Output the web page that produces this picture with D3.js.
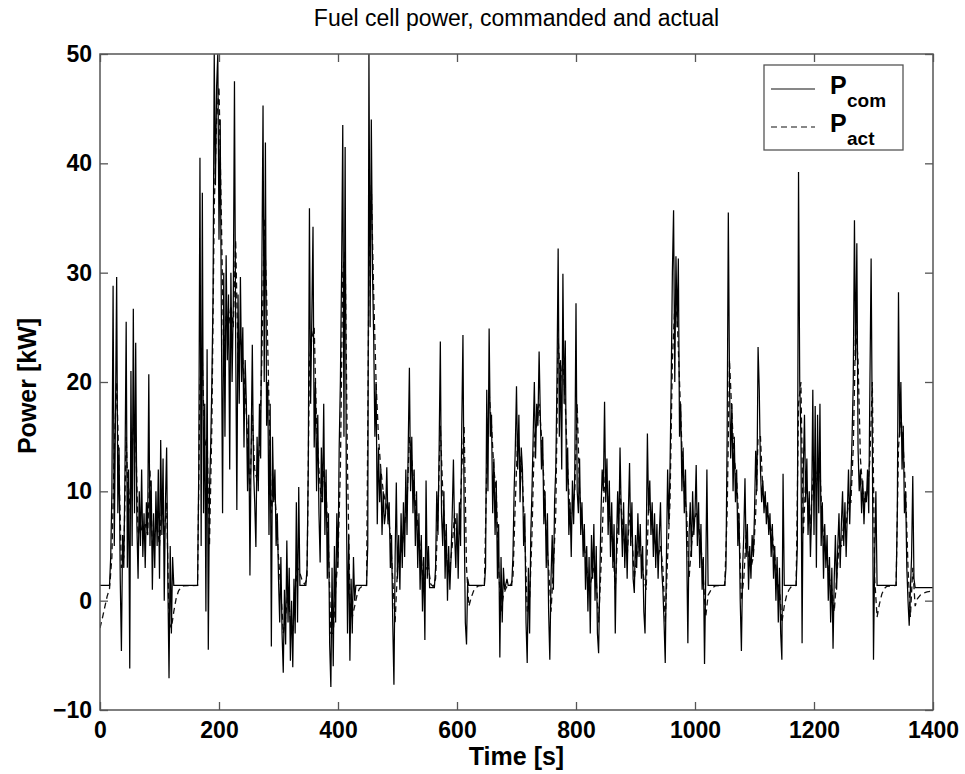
<!DOCTYPE html>
<html>
<head>
<meta charset="utf-8">
<script src="https://cdn.jsdelivr.net/npm/d3@7"></script>
<style>
html,body{margin:0;padding:0;background:#fff;}
svg{display:block;font-family:"Liberation Sans",Arial,Helvetica,sans-serif;}
</style>
</head>
<body>
<svg id="chart" width="965" height="774"></svg>
<script>
const titleText = "Fuel cell power, commanded and actual";
const xLabel = "Time [s]";
const yLabel = "Power [kW]";
const xTicks = [0,200,400,600,800,1000,1200,1400];
const yTicks = [-10,0,10,20,30,40,50];
const seriesNames = ["com","act"];

// commanded power [time s, kW]
const pCom = [
[0,1.4],[16,1.4],[18,4],[20,10],[22,28.8],[24,5],[26,17],[28,29.6],[30,8],[32,14],[34,2],[36,-4.6],[38,6],
[40,3],[42,12],[44,25.5],[46,3],[48,12],[50,-6.2],[52,21],[54,5],[56,26.7],[58,8],
[60,23.6],[62,7],[64,2],[66,10],[68,5],[70,12],[72,4],[74,8],[76,3],[78,9],
[80,6],[82,20.7],[84,5],[86,11],[88,1],[90,8],[92,3],[94,10],[96,5],[98,12],
[100,2],[102,14.7],[104,6],[106,13],[108,0],[110,9],[112,14],[114,2],[116,-7.1],[118,5],
[120,-3],[122,4],[124,1.4],[164,1.4],[166,12],[168,40.5],[170,5],[172,37.3],[174,8],[176,18],[178,-1],[180,23],[182,-4.5],[184,10],
[186,14],[188,20],[190,28],[192,50],[194,38],[196,47],[198,50],[200,33],[202,44],[204,26],
[206,8],[208,30],[210,15],[212,31.6],[214,22],[216,28],[218,12],[220,30],[222,20],[224,27],
[226,47.5],[228,24],[230,8.3],[232,28],[234,18],[236,29.6],[238,20],[240,25],[242,14],[244,22],
[246,18],[248,10],[250,17],[252,2.3],[254,14],[256,23.4],[258,12],[260,9],[262,4.9],[264,15],
[266,10],[268,18],[270,13],[272,30],[274,45.3],[276,20],[278,41.9],[280,16],[282,20],[284,6],
[286,18],[288,-4.2],[290,15],[292,9],[294,12],[296,5],[298,8],[300,2],
[302,-2],[304,4],[306,-3],[308,-6.6],[310,1],[312,-4],[314,5.5],[316,-2],[318,3],[320,-5.5],
[322,0],[324,-6.1],[326,2],[328,-3],[330,9],[332,-2],[334,10.4],[336,1.4],[346,1.4],[348,3],
[350,12],[352,35.9],[354,18],[356,26],[358,34.2],[360,14],[362,20],[364,10],[366,17],[368,8],
[370,3.5],[372,14],[374,9],[376,18],[378,6],[380,12],[382,2],[384,8],[386,-4],[388,-7.9],
[390,3],[392,-6],[394,5],[396,-2],[398,8],[400,3],[402,14],[404,20],[406,30],[408,43.5],
[410,15],[412,41.5],[414,10],[416,-3],[418,6],[420,-5.5],[422,2],[424,-3],[426,4],[428,0],
[430,1.4],[448,1.4],[450,5],[452,50],[454,25],[456,44],[458,30],
[460,24],[462,15],[464,20],[466,7],[468,14],[470,9],[472,12],[474,6],[476,10],[478,7],
[480,8],[482,12.2],[484,7],[486,9],[488,3],[490,6],[492,-2],[494,-7.7],[496,4],[498,10.8],
[500,2],[502,6],[504,1],[506,8],[508,3],[510,9],[512,4],[514,12],[516,6],[518,14],
[520,21.3],[522,10],[524,15],[526,8],[528,12],[530,5],[532,10],[534,3],[536,8],[538,1],
[540,6],[542,-1],[544,4],[546,-3.6],[548,11],[550,2],[552,5],[554,1.2],[562,1.2],[564,3],[566,10],[568,6],[570,14],[572,23.7],[574,8],[576,5],[578,10],
[580,2],[582,7],[584,0],[586,5],[588,1],[590,4],[592,8],[594,12.9],[596,6],[598,3],
[600,8],[602,2],[604,9],[606,5],[608,16],[610,24.3],[612,8],[614,-2],[616,-4],[618,2],
[620,1.4],[646,1.4],[648,3],[650,19.3],[652,10],[654,24.9],[656,15],[658,17],[660,8],[662,13],[664,6],[666,11],
[668,2],[670,7],[672,-5.2],[674,4],[676,-2],[678,3],[680,1],[682,1.5],[684,2],[686,1.4],[692,1.4],[694,4],[696,10],[698,14],
[700,19.6],[702,12],[704,17],[706,9],[708,14],[710,12],[712,5],[714,8],[716,-2],[718,-5.7],
[720,3],[722,-3],[724,6],[726,10],[728,15],[730,20],[732,13],[734,18],[736,16],[738,22.8],
[740,17],[742,12],[744,15],[746,7],[748,10],[750,3],[752,8],[754,-1],[756,-5.4],[758,2],
[760,6],[762,1],[764,9],[766,12],[768,20],[770,32.2],[772,15],[774,22],[776,12],[778,29.9],
[780,18],[782,23.8],[784,10],[786,14],[788,6],[790,9],[792,4],[794,11],[796,7],[798,12],
[800,27.2],[802,10],[804,8],[806,13],[808,6],[810,9],[812,4],[814,7],[816,1],[818,5],
[820,-1],[822,4],[824,-3],[826,6],[828,2],[830,7],[832,0],[834,5],[836,-3],[838,-4.8],
[840,2],[842,8],[844,12],[846,10],[848,18.2],[850,9],[852,13],[854,6],[856,11],[858,4],
[860,9],[862,3],[864,7],[866,-3],[868,5],[870,10],[872,6],[874,14],[876,8],[878,4],
[880,9],[882,3],[884,7],[886,2],[888,8],[890,12.6],[892,5],[894,9],[896,2],[898,0.7],
[900,6],[902,3],[904,8],[906,4],[908,7],[910,2],[912,5],[914,-1],[916,-3],[918,5],
[920,15.3],[922,8],[924,11],[926,6],[928,9],[930,4],[932,8],[934,3],[936,7],[938,2],
[940,6],[942,9],[944,3],[946,1],[948,-2],[950,-5.7],[952,4],[954,12],[956,7],[958,12],
[960,20],[962,30.1],[964,35.7],[966,20],[968,31.5],[970,25],[972,31.3],[974,15],[976,18],[978,10],
[980,14],[982,8],[984,12],[986,5],[988,-3.9],[990,6],[992,9],[994,4],[996,10],[998,6],
[1000,8],[1002,12.4],[1004,5],[1006,9],[1008,3],[1010,7],[1012,1],[1014,4],[1016,-5.8],[1018,2],
[1020,12],[1022,1.4],[1050,1.4],[1052,3],[1054,15],[1056,35.5],[1058,20],[1060,13],[1062,18],[1064,10],[1066,15],[1068,9],[1070,12],
[1072,5],[1074,8],[1076,0],[1078,-4.6],[1080,3],[1082,6],[1084,11.2],[1086,4],[1088,7],[1090,1],
[1092,5],[1094,2],[1096,6],[1098,4],[1100,8],[1102,13.7],[1104,10],[1106,23.2],[1108,19.3],[1110,12],
[1112,9],[1114,11],[1116,8],[1118,10],[1120,7],[1122,9],[1124,6],[1126,8],[1128,4],[1130,7],
[1132,2],[1134,5],[1136,0],[1138,4],[1140,-2],[1142,3],[1144,-3],[1146,-5.4],[1148,11.6],[1150,1.4],
[1170,1.4],[1172,5],[1174,39.2],[1176,20],[1178,15],[1180,-3.9],[1182,12],[1184,17],[1186,9],[1188,13],
[1190,6],[1192,10],[1194,4],[1196,8],[1198,19.3],[1200,6],[1202,17.8],[1204,3],[1206,17],[1208,8],
[1210,18],[1212,5],[1214,9],[1216,2],[1218,7],[1220,3],[1222,6],[1224,0],[1226,4],[1228,-2],
[1230,3],[1232,-4.4],[1234,2],[1236,6],[1238,1],[1240,5],[1242,8],[1244,3],[1246,7],[1248,10],
[1250,5],[1252,9],[1254,4],[1256,8],[1258,12],[1260,7],[1262,11],[1264,15],[1266,20],[1268,34.8],
[1270,22],[1272,32.7],[1274,14],[1276,10],[1278,12],[1280,8],[1282,11],[1284,7],[1286,10],[1288,9],
[1290,12],[1292,8],[1294,20],[1296,31.3],[1298,15],[1300,-5.4],[1302,4],[1304,10],[1306,1.4],
[1338,1.4],[1340,8],[1342,28.2],[1344,15],[1346,20],[1348,12],[1350,16],[1352,8],[1354,10],[1356,3],
[1358,0],[1360,-2.3],[1362,1],[1364,4],[1366,11.4],[1368,2],[1370,1.2],[1400,1.2]
];

// actual power [time s, kW]
const pAct = [
[0,-2.5],[4,-1.6],[8,-0.6],[12,0.4],[16,1.1],[20,4],[24,14],[28,20],[32,12],[36,3],[40,4],[44,15],[48,8],[52,11],[56,16],[60,15],[64,6],[68,7],[72,6],[76,7],[80,6],[84,12],[88,5],[92,6],[96,7],
[100,5],[104,9],[108,6],[112,9],[116,-2],[120,-2.5],[124,-1],[128,0.2],[132,0.9],[136,1.2],[140,1.35],[164,1.4],[168,20],[172,22],[176,14],[180,15],[184,5],[188,16],[192,36],[196,44],
[200,47],[204,35],[208,22],[212,26],[216,25],[220,27],[224,25],[228,33],[232,22],[236,24],[240,22],[244,19],[248,15],[252,10],[256,17],[260,12],[264,11],[268,14],[272,22],[276,35],[280,28],[284,18],[288,8],[292,11],[296,8],
[300,4],[304,1],[308,-3],[312,-1.5],[316,1],[320,-2],[324,-3],[328,1],[332,3],[336,2.5],[340,1.8],[344,1.5],[348,2],[352,22],[356,24],[360,25],[364,16],[368,12],[372,9],[376,12],[380,10],[384,5],[388,-3],[392,-3],[396,1],
[400,4],[404,12],[408,30],[412,32],[416,12],[420,0],[424,-1.5],[428,-0.5],[432,0.5],[436,1.1],[440,1.3],[448,1.4],[452,30],[456,38],[460,28],[464,20],[468,15],[472,12],[476,10],[480,9],[484,8],[488,6],[492,2],[496,-2],
[500,3],[504,4],[508,5],[512,7],[516,9],[520,15],[524,13],[528,10],[532,8],[536,6],[540,4],[544,1],[548,3],[552,3],[556,1.5],[560,1.3],[564,2],[568,8],[572,16],[576,10],[580,6],[584,3],[588,3],[592,5],[596,8],
[600,6],[604,6],[608,12],[612,16],[616,3],[620,-0.5],[624,0.3],[628,0.9],[632,1.2],[636,1.35],[646,1.4],[650,12],[654,19],[658,16],[662,12],[666,10],[670,3],[674,-1],[678,0.5],[682,1.1],[686,1.5],[690,1.4],[694,2],[698,9],
[702,15],[706,13],[710,11],[714,6],[718,-1],[722,0],[726,6],[730,15],[734,16],[738,18],[742,15],[746,11],[750,6],[754,3],[758,-1],[762,3],[766,8],[770,24],[774,20],[778,22],[782,18],[786,12],[790,8],[794,8],[798,10],
[802,18],[806,10],[810,7],[814,5],[818,3],[822,1],[826,2],[830,3],[834,2],[838,-2],[842,3],[846,9],[850,12],[854,9],[858,7],[862,5],[866,1],[870,6],[874,10],[878,7],[882,5],[886,4],[890,8],[894,6],[898,2],
[902,4],[906,5],[910,4],[914,2],[918,1],[922,9],[926,8],[930,6],[934,5],[938,4],[942,5],[946,3],[950,-2],[954,4],[958,9],[962,22],[966,27],[970,26],[974,20],[978,14],[982,10],[986,8],[990,2],[994,5],[998,7],
[1002,8],[1006,7],[1010,5],[1014,2],[1018,-1.5],[1022,0.5],[1026,0.9],[1030,1.2],[1034,1.35],[1050,1.4],[1054,8],[1058,22],[1062,17],[1066,13],[1070,11],[1074,7],[1078,0],[1082,2],[1086,6],[1090,4],[1094,3],[1098,4],
[1102,8],[1106,15],[1110,15],[1114,10],[1118,9],[1122,8],[1126,7],[1130,6],[1134,4],[1138,2],[1142,1],[1146,-2],[1150,-0.5],[1154,0.5],[1158,1],[1162,1.3],[1170,1.4],[1174,18],[1178,20],[1182,6],[1186,11],[1190,9],[1194,7],[1198,11],
[1202,12],[1206,11],[1210,12],[1214,7],[1218,5],[1222,4],[1226,2],[1230,1],[1234,-1],[1238,2],[1242,5],[1246,5],[1250,7],[1254,7],[1258,9],[1262,9],[1266,14],[1270,25],[1274,22],[1278,13],[1282,10],[1286,9],[1290,10],[1294,13],[1298,20],
[1302,2],[1306,-1.5],[1310,-0.3],[1314,0.6],[1318,1.1],[1322,1.3],[1338,1.4],[1342,14],[1346,17],[1350,14],[1354,10],[1358,3],[1362,-1.5],[1366,3],[1370,-0.5],[1374,0.2],[1380,0.6],[1390,0.8],[1400,0.9]
];

const svg = d3.select("#chart");
const L = 100, R = 933, T = 54, B = 710;
const x = d3.scaleLinear().domain([0,1400]).range([L,R]);
const y = d3.scaleLinear().domain([-10,50]).range([B,T]);

svg.append("rect").attr("width",965).attr("height",774).attr("fill","#fff");

svg.append("defs").append("clipPath").attr("id","clip")
  .append("rect").attr("x",L).attr("y",T).attr("width",R-L).attr("height",B-T);

const line = d3.line().x(d=>x(d[0])).y(d=>y(d[1]));
const g = svg.append("g").attr("clip-path","url(#clip)");
g.append("path").datum(pAct).attr("d",line)
  .attr("fill","none").attr("stroke","#111").attr("stroke-width",1.3)
  .attr("stroke-dasharray","6,4");
g.append("path").datum(pCom).attr("d",line)
  .attr("fill","none").attr("stroke","#000").attr("stroke-width",1.25)
  .attr("stroke-linejoin","miter");

// frame
const axisColor = "#555";
svg.append("rect").attr("x",L).attr("y",T).attr("width",R-L).attr("height",B-T)
  .attr("fill","none").attr("stroke",axisColor).attr("stroke-width",1.5);

function styleAxis(sel){
  sel.select(".domain").remove();
  sel.selectAll(".tick line").attr("stroke",axisColor).attr("stroke-width",1.3);
  sel.selectAll("text").attr("fill","#000").attr("font-size",23).attr("font-weight","bold")
    .attr("font-family","'Liberation Sans',Arial,sans-serif");
}
svg.append("g").attr("transform",`translate(0,${B})`)
  .call(d3.axisBottom(x).tickValues(xTicks).tickFormat(d3.format("d")).tickSize(-8).tickPadding(12))
  .call(styleAxis);
svg.append("g").attr("transform",`translate(0,${T})`)
  .call(d3.axisTop(x).tickValues(xTicks).tickFormat("").tickSize(-8))
  .call(styleAxis);
svg.append("g").attr("transform",`translate(${L},0)`)
  .call(d3.axisLeft(y).tickValues(yTicks).tickFormat(d3.format("d")).tickSize(-8).tickPadding(8))
  .call(styleAxis);
svg.append("g").attr("transform",`translate(${R},0)`)
  .call(d3.axisRight(y).tickValues(yTicks).tickFormat("").tickSize(-8))
  .call(styleAxis);

// title & labels
svg.append("text").attr("x",(L+R)/2).attr("y",26).attr("text-anchor","middle")
  .attr("font-size",23).attr("fill","#000").text(titleText);
svg.append("text").attr("x",(L+R)/2).attr("y",765).attr("text-anchor","middle")
  .attr("font-size",25).attr("font-weight","bold").attr("fill","#000").text(xLabel);
svg.append("text").attr("transform",`translate(36,${(T+B)/2 + 4}) rotate(-90)`).attr("text-anchor","middle")
  .attr("font-size",25).attr("font-weight","bold").attr("fill","#000").text(yLabel);

// legend
const lg = svg.append("g");
lg.append("rect").attr("x",764).attr("y",65).attr("width",139).attr("height",85)
  .attr("fill","#fff").attr("stroke",axisColor).attr("stroke-width",1.3);
const legY = [89,127];
const dashes = [null,"6,4"];
seriesNames.forEach((s,i)=>{
  lg.append("line").attr("x1",771).attr("x2",815).attr("y1",legY[i]).attr("y2",legY[i])
    .attr("stroke","#111").attr("stroke-width",1.2).attr("stroke-dasharray",dashes[i]);
  lg.append("text").attr("x",830).attr("y",legY[i]+5).attr("font-size",25).attr("font-weight","bold")
    .attr("fill","#000").text("P");
  lg.append("text").attr("x",847).attr("y",legY[i]+18).attr("font-size",19).attr("font-weight","bold")
    .attr("fill","#000").text(s);
});
</script>
</body>
</html>
